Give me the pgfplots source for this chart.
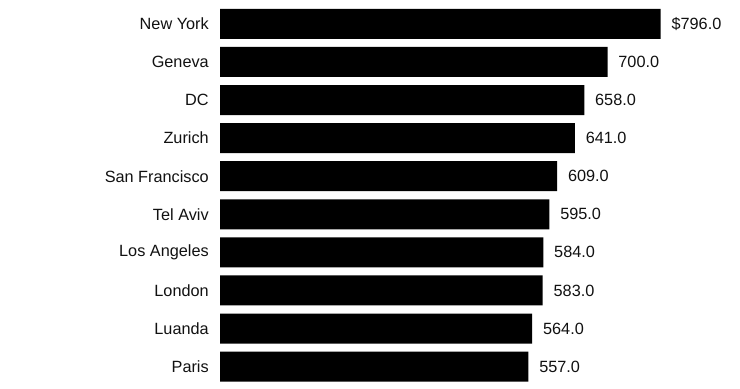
\documentclass[border=0pt]{standalone}
\usepackage{pgfplots}
\pgfplotsset{compat=1.18}
\usepackage{pgfplotstable}
\usepackage{fontspec}
\setmainfont{Liberation Sans}
\definecolor{txt}{HTML}{111111}
\pgfplotstableread{
idx val lab
0 796 \$796.0
1 700 700.0
2 658 658.0
3 641 641.0
4 609 609.0
5 595 595.0
6 584 584.0
7 583 583.0
8 564 564.0
9 557 557.0
}\datatable
\begin{document}
\begin{tikzpicture}
\useasboundingbox (0,0) rectangle (555pt,291.75pt);
\begin{axis}[
  at={(165pt,2.5pt)}, anchor=south west,
  scale only axis, width=373.68pt, height=285.6pt,
  xmin=0, xmax=900, ymin=-0.5, ymax=9.5, y dir=reverse,
  xbar, bar width=22.5pt, bar shift=0pt,
  hide x axis,
  axis y line*=left, y axis line style={draw=none},
  major tick length=0pt,
  ytick={0,...,9},
  yticklabels={New York,Geneva,DC,Zurich,San Francisco,Tel Aviv,Los Angeles,London,Luanda,Paris},
  yticklabel style={font=\fontsize{12.2}{14}\selectfont, text=txt, inner sep=0pt, xshift=-8.25pt},
  nodes near coords, point meta=explicit symbolic,
  nodes near coords style={font=\fontsize{12.2}{14}\selectfont, text=txt, anchor=west, inner sep=0pt, xshift=8pt},
]
\addplot[fill=black, draw=none] table[x=val, y=idx, meta=lab] {\datatable};
\end{axis}
\end{tikzpicture}
\end{document}
